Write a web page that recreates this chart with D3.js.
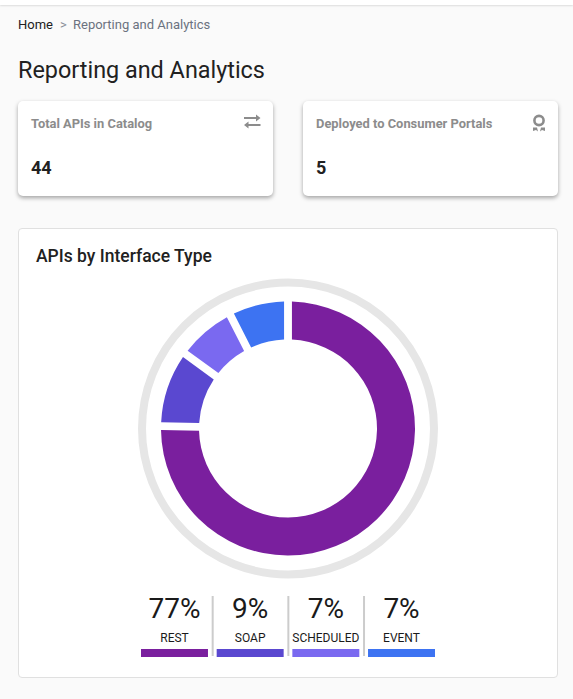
<!DOCTYPE html>
<html>
<head>
<meta charset="utf-8">
<script src="https://d3js.org/d3.v7.min.js"></script>
<style>
html, body { margin: 0; padding: 0; background: #fafafa; width: 573px; height: 699px; overflow: hidden; font-family: Roboto, sans-serif; color: #212121; }
.topbar { position: absolute; left: 0; top: 0; width: 573px; height: 5px; background: #fff; box-shadow: 0 1px 2px rgba(0,0,0,.12); }
.abs { position: absolute; white-space: nowrap; }
.card { position: absolute; top: 101px; width: 255px; height: 95px; background: #fff; border-radius: 5px; box-shadow: 0 2px 4px rgba(0,0,0,.35); }
.panel { position: absolute; left: 18px; top: 228px; width: 538px; height: 448px; background: #fff; border: 1px solid #e0e0e0; border-radius: 4px; }
svg { position: absolute; left: 0; top: 0; }
</style>
</head>
<body>
<div id="page"></div>
<script>
// values
var categories = ["REST", "SOAP", "SCHEDULED", "EVENT"];
var percentLabels = ["77%", "9%", "7%", "7%"];
var sliceValues = [75.3, 9.7, 7.5, 7.5];
var colors = ["#7a1f9e", "#5a48d0", "#7a69f0", "#3d73f2"];
var cardTitles = ["Total APIs in Catalog", "Deployed to Consumer Portals"];
var cardValues = ["44", "5"];
var cardLefts = [18, 303];

var page = d3.select("#page");
page.append("div").attr("class", "topbar");

page.append("div").attr("class", "abs").style("left", "18px").style("top", "17px").style("font-size", "13px").style("line-height", "16px").text("Home");
page.append("div").attr("class", "abs").style("left", "60px").style("top", "17px").style("font-size", "13px").style("line-height", "16px").style("color", "#8a8f98").text(">");
page.append("div").attr("class", "abs").style("left", "73px").style("top", "17px").style("font-size", "13px").style("line-height", "16px").style("color", "#6b7280").text("Reporting and Analytics");
page.append("div").attr("class", "abs").style("left", "18px").style("top", "56px").style("font-size", "23.4px").style("line-height", "28px").text("Reporting and Analytics");

cardTitles.forEach(function (t, i) {
    var card = page.append("div").attr("class", "card").style("left", cardLefts[i] + "px");
    card.append("div").attr("class", "abs").style("left", "13px").style("top", "15px").style("font-size", "12.9px").style("font-weight", "700").style("line-height", "16px").style("color", "#8c8c8c").text(t);
    card.append("div").attr("class", "abs").style("left", "13px").style("top", "56px").style("font-size", "18px").style("font-weight", "700").style("line-height", "22px").text(cardValues[i]);
});

page.append("div").attr("class", "panel");
page.append("div").attr("class", "abs").style("left", "36px").style("top", "245px").style("font-size", "17.5px").style("font-weight", "500").style("line-height", "22px").text("APIs by Interface Type");

var svg = page.append("svg").attr("width", 573).attr("height", 699);

// card icons
var swap = svg.append("g").attr("transform", "translate(244,114.5)").attr("fill", "#8c8c8c");
swap.append("path").attr("d", "M12 0 L16.5 3.5 L12 7 L12 4.5 L0 4.5 L0 2.5 L12 2.5 Z");
swap.append("path").attr("d", "M4.5 7 L0 10.5 L4.5 14 L4.5 11.5 L16.5 11.5 L16.5 9.5 L4.5 9.5 Z");
var badge = svg.append("g").attr("transform", "translate(539,120.5)");
badge.append("circle").attr("r", 4.6).attr("fill", "none").attr("stroke", "#8c8c8c").attr("stroke-width", 2.6);
badge.append("path").attr("fill", "#8c8c8c").attr("d", "M-6 7 L-2 7 L-1 11 L-3 9.5 L-6 10.5 Z M6 7 L2 7 L1 11 L3 9.5 L6 10.5 Z");

// donut
var cx = 288, cy = 428.5;
var donut = svg.append("g").attr("transform", "translate(" + cx + "," + cy + ")");
donut.append("circle").attr("r", 146).attr("fill", "none").attr("stroke", "#e6e6e6").attr("stroke-width", 8);

var pie = d3.pie().sort(null).padAngle(0)(sliceValues);
var arc = d3.arc().innerRadius(89).outerRadius(127).padRadius(127).padAngle(0.062);
donut.selectAll("path.slice").data(pie).enter().append("path")
    .attr("class", "slice")
    .attr("d", arc)
    .attr("fill", function (d, i) { return colors[i]; });

// legend under the donut
var x = d3.scaleBand().domain(categories).range([141, 435]).paddingInner(0.115);
var legend = svg.selectAll("g.legend").data(categories).enter().append("g").attr("class", "legend")
    .attr("transform", function (d) { return "translate(" + x(d) + ",0)"; });
legend.append("text").attr("x", x.bandwidth() / 2).attr("y", 618).attr("text-anchor", "middle")
    .attr("font-size", 28).attr("fill", "#1a1a1a").text(function (d, i) { return percentLabels[i]; });
legend.append("text").attr("x", x.bandwidth() / 2).attr("y", 642).attr("text-anchor", "middle")
    .attr("font-size", 12).attr("fill", "#1a1a1a").text(function (d) { return d; });
legend.append("rect").attr("y", 649).attr("width", x.bandwidth()).attr("height", 8)
    .attr("fill", function (d, i) { return colors[i]; });
legend.filter(function (d, i) { return i > 0; }).append("rect")
    .attr("x", -5).attr("y", 596).attr("width", 2).attr("height", 60).attr("fill", "#cccccc");
</script>
</body>
</html>
